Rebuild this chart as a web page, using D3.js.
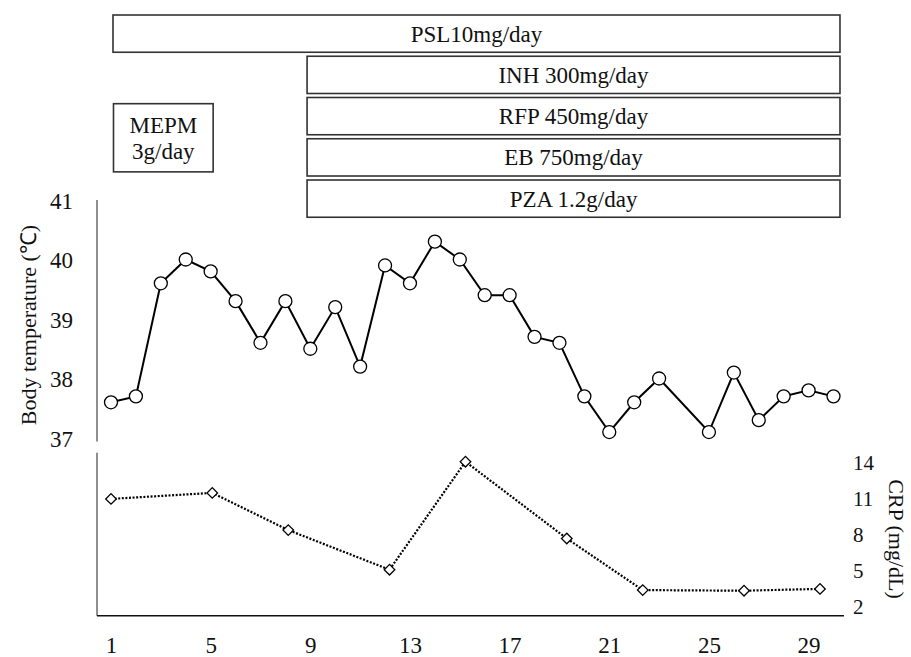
<!DOCTYPE html>
<html>
	<head>
		<meta charset="utf-8">
		<style>
			body { margin: 0; background: #fff; }
			svg text { font-family: "Liberation Serif", "Times New Roman", serif; fill: #111; }
		</style>
	</head>
	<body>
		<script src="https://cdn.jsdelivr.net/npm/d3@7/dist/d3.min.js"></script>

		<div id="canvas"></div>

		<script>
				// body temperature, one reading per day (day 24 has no marker)
				var days = d3.range(1, 31);
				var temps = [37.6, 37.7, 39.6, 40.0, 39.8, 39.3, 38.6, 39.3, 38.5, 39.2,
					38.2, 39.9, 39.6, 40.3, 40.0, 39.4, 39.4, 38.7, 38.6, 37.7,
					37.1, 37.6, 38.0, null, 37.1, 38.1, 37.3, 37.7, 37.8, 37.7];

				// CRP measurements
				var crpDays = [1, 5, 8, 12, 15, 19, 22, 26, 29];
				var crpValues = [10.9, 11.4, 8.3, 5.0, 14.0, 7.6, 3.3, 3.25, 3.4];

				var xTicks = [1, 5, 9, 13, 17, 21, 25, 29];
				var tempTicks = [37, 38, 39, 40, 41];
				var crpTicks = [2, 5, 8, 11, 14];

				// treatment boxes: label lines, first/last day, lane span
				var drugs = [
					{ label: ["PSL10mg/day"], from: 1.08, to: 30.26, lane0: 0, lane1: 1 },
					{ label: ["INH 300mg/day"], from: 8.87, to: 30.26, lane0: 1, lane1: 2 },
					{ label: ["RFP 450mg/day"], from: 8.87, to: 30.26, lane0: 2, lane1: 3 },
					{ label: ["EB 750mg/day"], from: 8.87, to: 30.26, lane0: 3, lane1: 4 },
					{ label: ["PZA 1.2g/day"], from: 8.87, to: 30.26, lane0: 4, lane1: 5 },
					{ label: ["MEPM", "3g/day"], from: 1.1, to: 5.1, lane0: 2.15, lane1: 3.9 }
				];

				var width = 911;
				var height = 657;

				var svg = d3.select("#canvas")
					.append("svg")
					.attr("width", width)
					.attr("height", height);

				var x = d3.scaleLinear().domain([1, 30]).range([111, 833.5]);
				// the CRP panel was laid out a little wider
				var xCrp = d3.scaleLinear().domain([1, 30]).range([111, 845.3]);
				var yTemp = d3.scaleLinear().domain([37, 41]).range([438, 200]);
				var yCrp = d3.scaleLinear().domain([2, 14]).range([605.7, 461.7]);
				var lane = d3.scaleLinear().domain([0, 5]).range([15, 221.25]);

				var axisX = 97;

				// treatment boxes
				var boxes = svg.append("g").selectAll("g")
					.data(drugs)
					.enter()
					.append("g");

				boxes.append("rect")
					.attr("x", function (d) { return x(d.from); })
					.attr("y", function (d) { return lane(d.lane0); })
					.attr("width", function (d) { return x(d.to) - x(d.from); })
					.attr("height", function (d) { return lane(d.lane1) - lane(d.lane0) - 4; })
					.style("fill", "white")
					.style("stroke", "#333")
					.style("stroke-width", 1.6);

				boxes.each(function (d) {
					var cx = (x(d.from) + x(d.to)) / 2;
					var cy = (lane(d.lane0) + lane(d.lane1) - 4) / 2;
					var n = d.label.length;
					d3.select(this).selectAll("text")
						.data(d.label)
						.enter()
						.append("text")
						.attr("x", cx)
						.attr("y", function (t, i) { return cy + (i - (n - 1) / 2) * 26; })
						.attr("dy", "0.35em")
						.attr("text-anchor", "middle")
						.style("font-size", "23px")
						.text(function (t) { return t; });
				});

				// temperature axis
				svg.append("line")
					.attr("x1", axisX).attr("x2", axisX)
					.attr("y1", yTemp(41)).attr("y2", yTemp(36.94))
					.style("stroke", "#6a6a6a")
					.style("stroke-width", 1.5);

				svg.append("g")
					.attr("transform", "translate(73,0)")
					.call(d3.axisLeft(yTemp).tickValues(tempTicks).tickFormat(d3.format("d")).tickSize(0).tickPadding(0))
					.call(function (g) { g.select(".domain").remove(); })
					.selectAll("text")
					.style("font-size", "23px")
					.attr("dy", "0.35em");

				svg.append("text")
					.attr("transform", "translate(36,325) rotate(-90)")
					.attr("text-anchor", "middle")
					.style("font-size", "22px")
					.text("Body temperature (℃)");

				var tempPoints = days.map(function (d, i) { return { day: d, t: temps[i] }; })
					.filter(function (p) { return p.t !== null; });

				svg.append("path")
					.datum(tempPoints)
					.attr("d", d3.line()
						.x(function (p) { return x(p.day); })
						.y(function (p) { return yTemp(p.t); }))
					.style("fill", "none")
					.style("stroke", "#000")
					.style("stroke-width", 2);

				svg.append("g").selectAll("circle")
					.data(tempPoints)
					.enter()
					.append("circle")
					.attr("cx", function (p) { return x(p.day); })
					.attr("cy", function (p) { return yTemp(p.t); })
					.attr("r", 6.5)
					.style("fill", "white")
					.style("stroke", "#000")
					.style("stroke-width", 1.3);

				// CRP panel frame
				svg.append("path")
					.attr("d", "M" + axisX + "," + (yCrp(14) - 9) + "V" + (yCrp(2) + 10))
					.style("fill", "none")
					.style("stroke", "#6a6a6a")
					.style("stroke-width", 1.5);

				svg.append("line")
					.attr("x1", axisX).attr("x2", xCrp(29.95))
					.attr("y1", yCrp(2) + 10).attr("y2", yCrp(2) + 10)
					.style("stroke", "#111")
					.style("stroke-width", 1.5);

				svg.append("g")
					.attr("transform", "translate(853,0)")
					.call(d3.axisRight(yCrp).tickValues(crpTicks).tickFormat(d3.format("d")).tickSize(0).tickPadding(0))
					.call(function (g) { g.select(".domain").remove(); })
					.selectAll("text")
					.style("font-size", "21px")
					.attr("dy", "0.35em");

				svg.append("text")
					.attr("transform", "translate(889,539) rotate(90)")
					.attr("text-anchor", "middle")
					.style("font-size", "22px")
					.text("CRP (mg/dL)");

				var crpPoints = crpDays.map(function (d, i) { return { day: d, c: crpValues[i] }; });

				svg.append("path")
					.datum(crpPoints)
					.attr("d", d3.line()
						.x(function (p) { return xCrp(p.day); })
						.y(function (p) { return yCrp(p.c); }))
					.style("fill", "none")
					.style("stroke", "#000")
					.style("stroke-width", 2.2)
					.style("stroke-dasharray", "2,1.6");

				svg.append("g").selectAll("path")
					.data(crpPoints)
					.enter()
					.append("path")
					.attr("d", d3.symbol().type(d3.symbolSquare).size(56))
					.attr("transform", function (p) {
						return "translate(" + xCrp(p.day) + "," + yCrp(p.c) + ") rotate(45)";
					})
					.style("fill", "white")
					.style("stroke", "#000")
					.style("stroke-width", 1.3);

				// day axis
				svg.append("g")
					.attr("transform", "translate(0,637)")
					.call(d3.axisBottom(x).tickValues(xTicks).tickSize(0).tickPadding(0))
					.call(function (g) { g.select(".domain").remove(); })
					.selectAll("text")
					.style("font-size", "23px")
					.attr("dy", "0.71em");
		</script>
	</body>
</html>
